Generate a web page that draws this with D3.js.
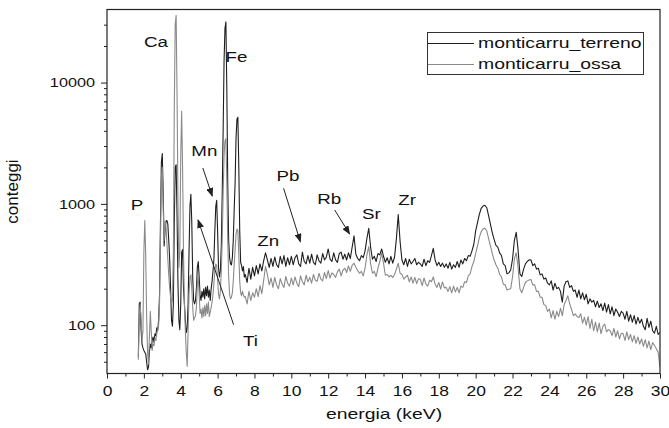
<!DOCTYPE html>
<html><head><meta charset="utf-8">
<script src="https://cdn.jsdelivr.net/npm/d3@7"></script>
<style>
html,body{margin:0;padding:0;background:#fff;}
svg{display:block;font-family:"Liberation Sans",Arial,sans-serif;}
</style></head><body>
<svg id="chart" width="669" height="428"></svg>
<script>
// ---------- data ----------
const energy = [
1.70,1.75,1.80,1.85,1.90,1.95,
2.00,2.05,2.10,2.15,2.20,2.25,2.30,2.35,2.40,2.45,2.50,2.55,2.60,2.65,2.70,2.75,2.80,2.85,2.90,2.95,
3.00,3.05,3.10,3.15,3.20,3.25,3.30,3.35,3.40,3.45,3.50,3.55,3.60,3.65,3.70,3.75,3.80,3.85,3.90,3.95,
4.00,4.05,4.10,4.15,4.20,4.25,4.30,4.35,4.40,4.45,4.50,4.55,4.60,4.65,4.70,4.75,4.80,4.85,4.90,4.95,
5.00,5.05,5.10,5.15,5.20,5.25,5.30,5.35,5.40,5.45,5.50,5.55,5.60,5.65,5.70,5.75,5.80,5.85,5.90,5.95,
6.00,6.05,6.10,6.15,6.20,6.25,6.30,6.35,6.40,6.45,6.50,6.55,6.60,6.65,6.70,6.75,6.80,6.85,6.90,6.95,
7.00,7.05,7.10,7.15,7.20,7.25,7.30,7.35,7.40,7.45,
7.5,7.6,7.7,7.8,7.9,
8.0,8.1,8.2,8.3,8.4,8.5,8.6,8.7,8.8,8.9,
9.0,9.1,9.2,9.3,9.4,9.5,9.6,9.7,9.8,9.9,
10.0,10.1,10.2,10.3,10.4,10.5,10.6,10.7,10.8,10.9,
11.0,11.1,11.2,11.3,11.4,11.5,11.6,11.7,11.8,11.9,
12.0,12.1,12.2,12.3,12.4,12.5,12.6,12.7,12.8,12.9,
13.0,13.1,13.2,13.3,13.4,13.5,13.6,13.7,13.8,13.9,
14.0,14.1,14.2,14.3,14.4,14.5,14.6,14.7,14.8,14.9,
15.0,15.1,15.2,15.3,15.4,15.5,15.6,15.7,15.8,15.9,
16.0,16.1,16.2,16.3,16.4,16.5,16.6,16.7,16.8,16.9,
17.0,17.1,17.2,17.3,17.4,17.5,17.6,17.7,17.8,17.9,
18.0,18.1,18.2,18.3,18.4,18.5,18.6,18.7,18.8,18.9,
19.0,19.1,19.2,19.3,19.4,19.5,19.6,19.7,19.8,19.9,
20.0,20.1,20.2,20.3,20.4,20.5,20.6,20.7,20.8,20.9,
21.0,21.1,21.2,21.3,21.4,21.5,21.6,21.7,21.8,21.9,
22.0,22.1,22.2,22.3,22.4,22.5,22.6,22.7,22.8,22.9,
23.0,23.1,23.2,23.3,23.4,23.5,23.6,23.7,23.8,23.9,
24.0,24.1,24.2,24.3,24.4,24.5,24.6,24.7,24.8,24.9,
25.0,25.1,25.2,25.3,25.4,25.5,25.6,25.7,25.8,25.9,
26.0,26.1,26.2,26.3,26.4,26.5,26.6,26.7,26.8,26.9,
27.0,27.1,27.2,27.3,27.4,27.5,27.6,27.7,27.8,27.9,
28.0,28.1,28.2,28.3,28.4,28.5,28.6,28.7,28.8,28.9,
29.0,29.1,29.2,29.3,29.4,29.5,29.6,29.7,29.8,29.9,
30.0];

const terreno = [
55,150,155,90,70,65,
62,60,58,50,43,45,60,70,65,75,80,72,85,82,95,90,110,180,700,2200,
2600,1200,450,600,720,730,680,500,350,200,110,98,150,700,2000,2100,800,220,110,92,
150,400,420,200,150,110,87,95,150,400,950,1200,700,250,160,150,160,200,300,335,
250,175,160,190,170,200,165,205,175,210,170,195,160,200,230,280,350,600,950,1070,
600,300,250,280,450,1200,4000,15000,28000,31600,9000,1500,500,360,320,314,360,500,900,1500,
3500,5000,5170,2000,600,330,310,280,304,250,
262,225,295,240,300,
255,310,265,320,280,340,395,345,300,355,
305,365,315,300,370,320,375,305,360,315,
370,315,360,380,320,305,400,335,320,375,
325,385,330,315,380,340,325,390,345,365,
425,350,335,395,345,330,390,400,350,385,
345,395,355,440,545,385,355,340,375,360,
410,520,630,440,350,370,335,390,380,425,
370,330,360,320,370,325,365,520,815,490,
345,315,355,305,350,320,335,355,315,330,
320,305,350,310,340,330,375,430,345,310,
330,305,325,300,320,295,330,290,315,300,
335,300,345,320,355,340,375,370,410,465,
600,700,820,920,960,975,930,800,680,580,
510,455,440,395,375,320,310,265,270,285,
350,500,583,420,265,252,290,320,335,346,
345,310,320,290,295,260,265,240,245,222,
215,232,195,222,200,205,190,155,210,228,
232,205,212,190,195,170,195,165,185,162,
180,150,165,155,160,142,158,140,150,132,
152,128,148,124,142,120,136,128,118,130,
126,112,130,108,122,106,120,102,116,104,
112,98,92,114,96,108,90,86,98,84,
87];

const ossa = [
52,120,150,110,75,90,
400,730,380,120,60,48,80,130,90,62,70,68,78,75,85,92,100,150,500,1600,
2000,900,500,720,650,480,350,260,200,170,150,160,400,6000,30000,35900,8000,1000,300,400,
2500,5800,2000,400,150,90,60,46,90,180,250,260,200,140,110,115,120,140,220,250,
180,125,135,115,140,118,145,120,150,125,155,118,128,140,155,180,220,280,320,310,
240,180,165,190,280,500,1200,2500,3300,3440,1500,500,250,180,165,170,185,230,320,420,
560,620,600,380,230,185,175,190,178,170,
172,150,190,160,185,
170,200,172,212,182,235,305,262,215,245,
205,248,215,200,242,218,205,252,222,210,
245,215,250,222,208,255,228,215,258,228,
248,222,262,235,230,268,240,232,272,242,
282,245,270,262,248,275,290,255,285,295,
272,308,278,312,325,300,282,268,278,255,
295,380,445,322,268,278,252,295,335,395,
325,258,262,250,258,248,262,290,324,268,
262,240,250,258,228,250,222,248,220,242,
238,212,245,218,210,235,228,250,218,205,
225,198,228,203,205,190,208,185,210,188,
205,185,210,205,228,225,255,265,305,335,
390,450,530,590,620,630,600,520,450,390,
345,315,295,262,250,218,215,195,198,200,
250,350,396,300,200,185,205,225,232,236,
238,215,215,190,190,170,170,148,145,130,
136,115,132,112,130,118,138,120,148,160,
175,150,135,120,124,118,116,124,104,116,
100,118,94,112,90,106,88,104,85,98,
102,88,92,90,82,94,80,90,77,86,
85,75,88,76,84,73,82,71,80,70,
77,67,76,65,74,63,72,68,64,60,
45];

const seriesNames = ["monticarru_terreno", "monticarru_ossa"];
const xTicks = [0,2,4,6,8,10,12,14,16,18,20,22,24,26,28,30];
const xMinorTicks = [1,3,5,7,9,11,13,15,17,19,21,23,25,27,29];
const yTicks = [100,1000,10000];
const yMinorTicks = [50,60,70,80,90,200,300,400,500,600,700,800,900,2000,3000,4000,5000,6000,7000,8000,9000,20000,30000];

// peak labels: [text, energy (keV), counts] anchor of label baseline centre
const peakLabels = [
  ["Ca", 2.66, 19700], ["Fe", 7.02, 14650], ["Mn", 5.28, 2480], ["P", 1.63, 890],
  ["Pb", 9.82, 1550], ["Rb", 12.06, 1000], ["Sr", 14.34, 750], ["Zr", 16.28, 980],
  ["Zn", 8.75, 453], ["Ti", 7.78, 68]
];
// arrows: [from keV, from counts, to keV, to counts]
const peakArrows = [
  [5.20, 1975, 5.71, 1161],
  [9.58, 1344, 10.49, 488],
  [12.35, 891, 13.16, 565],
  [6.87, 101, 4.94, 737]
];

// ---------- drawing ----------
const svg = d3.select("#chart");
const L = 107, R = 660, T = 9.5, B = 373.5;
const SX = 1.25;               // horizontal text stretch of the reference
const INK = "#222";
const colors = ["#1e1e1e", "#8a8a8a"];

const x = d3.scaleLinear().domain([0, 30]).range([L, R]);
const y = d3.scaleLog().domain([40, 40000]).range([B, T]);

svg.append("defs").append("clipPath").attr("id", "plotclip")
  .append("rect").attr("x", L).attr("y", T).attr("width", R - L).attr("height", B - T);

const marker = svg.select("defs").append("marker")
  .attr("id", "arrowhead").attr("markerUnits", "userSpaceOnUse")
  .attr("markerWidth", 9).attr("markerHeight", 7)
  .attr("refX", 8).attr("refY", 3.5).attr("orient", "auto");
marker.append("path").attr("d", "M0,0L9,3.5L0,7Z").attr("fill", INK);

// axes
const gx = svg.append("g").attr("transform", `translate(0,${B})`)
  .call(d3.axisBottom(x).tickValues(xTicks).tickSize(5).tickPadding(8).tickFormat(d3.format("d")));
const gxm = svg.append("g").attr("transform", `translate(0,${B})`)
  .call(d3.axisBottom(x).tickValues(xMinorTicks).tickSize(3).tickFormat(""));
const gy = svg.append("g").attr("transform", `translate(${L},0)`)
  .call(d3.axisLeft(y).tickValues(yTicks).tickSize(6).tickFormat(d3.format("d")));
const gym = svg.append("g").attr("transform", `translate(${L},0)`)
  .call(d3.axisLeft(y).tickValues(yMinorTicks).tickSize(3).tickFormat(""));

[gx, gxm, gy, gym].forEach(g => {
  g.select(".domain").remove();
  g.attr("font-family", null).attr("font-size", null).attr("color", INK);
  g.selectAll("line").attr("stroke-width", 1);
});
gx.selectAll("text").attr("font-size", 14).attr("fill", "#111")
  .attr("transform", `scale(${SX},1)`);
gy.selectAll("text").attr("font-size", 13).attr("fill", "#111")
  .attr("x", -12 / SX).attr("transform", `scale(${SX},1)`);

// series
const line = d3.line().x(d => x(d[0])).y(d => y(d[1]));
const plot = svg.append("g").attr("clip-path", "url(#plotclip)");
[terreno, ossa].forEach((vals, i) => {
  plot.append("path")
    .datum(energy.map((e, k) => [e, vals[k]]))
    .attr("fill", "none").attr("stroke", colors[i]).attr("stroke-width", 1.1)
    .attr("stroke-linejoin", "round").attr("d", line);
});

// frame
svg.append("rect").attr("x", L).attr("y", T).attr("width", R - L).attr("height", B - T)
  .attr("fill", "none").attr("stroke", INK).attr("stroke-width", 1.2);

function stext(px, py, txt, size, anchor) {
  return svg.append("text")
    .attr("transform", `translate(${px},${py}) scale(${SX},1)`)
    .attr("text-anchor", anchor || "middle").attr("font-size", size)
    .attr("fill", "#111").text(txt);
}

// peak labels and arrows
peakLabels.forEach(p => stext(x(p[1]), y(p[2]), p[0], 15, "middle"));
peakArrows.forEach(a => {
  svg.append("line")
    .attr("x1", x(a[0])).attr("y1", y(a[1])).attr("x2", x(a[2])).attr("y2", y(a[3]))
    .attr("stroke", INK).attr("stroke-width", 1).attr("marker-end", "url(#arrowhead)");
});

// axis titles
stext((L + R) / 2 + 0.5, 419, "energia (keV)", 15.5, "middle");
svg.append("text")
  .attr("transform", `translate(17.5,${(T + B) / 2}) rotate(-90)`)
  .attr("text-anchor", "middle").attr("font-size", 17).attr("fill", "#111")
  .text("conteggi");

// legend
const lg = svg.append("g");
lg.append("rect").attr("x", 427.5).attr("y", 32.5).attr("width", 216).attr("height", 42)
  .attr("fill", "#fff").attr("stroke", "#333").attr("stroke-width", 1);
seriesNames.forEach((nm, i) => {
  const ly = 43.5 + i * 21;
  lg.append("line").attr("x1", 428).attr("x2", 474).attr("y1", ly).attr("y2", ly)
    .attr("stroke", colors[i]).attr("stroke-width", 1);
  lg.append("text").attr("transform", `translate(478,${ly + 4.8}) scale(${SX},1)`)
    .attr("font-size", 15.5).attr("fill", "#111").text(nm);
});
</script>
</body></html>
